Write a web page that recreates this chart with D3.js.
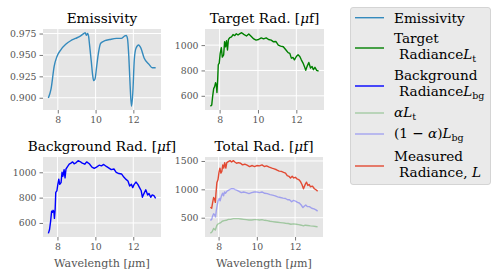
<!DOCTYPE html>
<html><head><meta charset="utf-8">
<script src="https://cdn.jsdelivr.net/npm/d3@7"></script>
<style>
html,body{margin:0;padding:0;background:#fff;}
svg{display:block;font-family:"DejaVu Serif",serif;}
</style></head>
<body><svg id="c" width="498" height="279"></svg>
<script>
// ---------- data ----------
const wlEmis = [7.50,7.64,7.81,7.95,8.16,8.42,8.68,8.94,9.19,9.37,9.45,9.51,9.58,9.63,9.68,9.77,9.85,9.90,9.97,10.06,10.15,10.27,10.49,10.75,11.10,11.36,11.53,11.62,11.69,11.76,11.83,11.90,11.97,12.05,12.14,12.28,12.40,12.57,12.83,13.00,13.18];
const emissivity = [0.8996,0.910,0.937,0.948,0.956,0.9624,0.9666,0.9693,0.972,0.975,0.976,0.973,0.975,0.972,0.962,0.943,0.9255,0.920,0.922,0.937,0.952,0.9636,0.9666,0.968,0.9693,0.9693,0.972,0.9727,0.969,0.948,0.914,0.890,0.905,0.9445,0.9579,0.9617,0.958,0.9465,0.939,0.935,0.935];

const wlTarget = [7.52,7.59,7.64,7.69,7.74,7.79,7.83,7.86,7.90,7.93,7.98,8.03,8.09,8.14,8.21,8.26,8.31,8.36,8.41,8.46,8.53,8.62,8.70,8.79,8.87,8.96,9.04,9.15,9.26,9.40,9.52,9.64,9.78,9.90,10.03,10.17,10.29,10.43,10.55,10.69,10.81,10.94,11.06,11.18,11.32,11.46,11.57,11.66,11.74,11.83,11.90,12.00,12.09,12.18,12.26,12.35,12.42,12.49,12.56,12.65,12.74,12.82,12.89,12.97,13.06,13.16];
const targetRad = [517,528,600,657,672,703,683,626,730,845,858,935,979,905,923,1026,987,1034,961,1044,1059,1065,1083,1075,1090,1080,1088,1098,1085,1072,1088,1070,1049,1039,1044,1057,1049,1057,1044,1039,1026,1028,1000,992,987,961,941,935,897,902,884,910,923,910,884,858,832,801,832,863,819,832,806,825,801,794];

const wlBackground = [7.52,7.58,7.64,7.69,7.74,7.77,7.81,7.84,7.88,7.91,7.97,8.02,8.07,8.12,8.19,8.24,8.29,8.35,8.40,8.45,8.54,8.62,8.71,8.80,8.88,8.99,9.09,9.19,9.31,9.44,9.54,9.68,9.82,9.94,10.06,10.20,10.32,10.44,10.58,10.72,10.84,10.98,11.10,11.24,11.38,11.50,11.62,11.72,11.81,11.90,11.97,12.05,12.14,12.24,12.33,12.42,12.48,12.55,12.66,12.76,12.83,12.92,13.00,13.09,13.18];
const backgroundRad = [518,546,615,692,684,700,692,636,713,841,854,905,946,905,918,1000,969,1021,956,1026,1046,1064,1072,1082,1067,1077,1092,1085,1072,1064,1082,1067,1041,1031,1041,1056,1051,1062,1046,1033,1021,1026,1000,990,987,962,944,931,892,905,879,905,923,905,879,854,803,828,862,821,833,803,821,815,795];

const wlAlphaLt = [7.57,7.66,7.74,7.83,7.91,8.00,8.09,8.19,8.29,8.40,8.51,8.63,8.77,8.91,9.04,9.18,9.32,9.45,9.59,9.73,9.86,10.00,10.14,10.27,10.41,10.55,10.69,10.82,10.96,11.09,11.23,11.37,11.50,11.64,11.78,11.92,12.06,12.19,12.33,12.44,12.53,12.67,12.80,12.94,13.08,13.18];
const alphaLt = [224,253,310,282,368,397,408,437,448,454,471,471,483,483,483,477,471,466,460,460,466,466,460,466,454,448,437,431,425,420,414,408,402,397,385,391,385,379,368,356,368,362,356,351,345,339];

const wlBgPart = [7.57,7.64,7.69,7.74,7.79,7.84,7.88,7.93,7.98,8.03,8.08,8.15,8.21,8.26,8.31,8.36,8.43,8.51,8.60,8.68,8.77,8.87,8.97,9.07,9.19,9.31,9.44,9.59,9.73,9.86,10.00,10.14,10.27,10.41,10.55,10.69,10.82,10.96,11.09,11.23,11.37,11.50,11.61,11.71,11.82,11.92,12.02,12.13,12.22,12.32,12.41,12.48,12.56,12.65,12.75,12.87,12.99,13.09,13.18];
const bgPart = [454,471,529,569,552,511,626,724,799,839,799,885,931,885,954,931,966,983,1000,1011,1011,994,983,966,943,954,943,925,943,954,954,943,954,931,925,908,897,885,868,856,845,839,816,816,782,805,793,770,759,724,678,701,724,695,695,667,655,638,615];

const wlMeasured = [7.57,7.64,7.69,7.74,7.79,7.83,7.86,7.91,7.97,8.02,8.07,8.12,8.17,8.22,8.27,8.32,8.38,8.43,8.51,8.60,8.68,8.77,8.85,8.94,9.04,9.15,9.25,9.37,9.49,9.62,9.76,9.88,10.00,10.14,10.27,10.39,10.51,10.65,10.79,10.91,11.03,11.17,11.28,11.40,11.50,11.59,11.68,11.76,11.85,11.93,12.02,12.10,12.19,12.27,12.36,12.44,12.53,12.60,12.67,12.74,12.80,12.91,13.01,13.11,13.18];
const measuredRad = [684,667,770,856,828,770,914,1115,1172,1299,1374,1287,1316,1431,1374,1471,1374,1471,1489,1506,1483,1506,1483,1460,1471,1460,1431,1443,1425,1402,1420,1402,1420,1414,1431,1402,1414,1391,1374,1362,1345,1322,1316,1299,1287,1241,1230,1201,1230,1201,1212,1184,1172,1144,1086,1011,1086,1126,1069,1086,1046,1057,1011,989,966];

const wlTicks = [8,10,12];
const emisTicks = [0.900,0.925,0.950,0.975];
const radTicks = [600,800,1000];
const totalTicks = [500,1000,1500];

// ---------- drawing ----------
const svg = d3.select("#c");
const TICKC = "#555555";

function pad(ext){const d=(ext[1]-ext[0])*0.05;return [ext[0]-d,ext[1]+d];}

function panel(cfg){
  const allX = cfg.series.flatMap(s=>s.x), allY = cfg.series.flatMap(s=>s.y);
  const x = d3.scaleLinear().domain(pad(d3.extent(allX))).range([cfg.x0,cfg.x1]);
  const y = d3.scaleLinear().domain(pad(d3.extent(allY))).range([cfg.y1,cfg.y0]);
  const g = svg.append("g");
  g.append("rect").attr("x",cfg.x0).attr("y",cfg.y0).attr("width",cfg.x1-cfg.x0).attr("height",cfg.y1-cfg.y0).attr("fill","#E5E5E5");
  // grid
  g.selectAll(".gx").data(wlTicks).join("line").attr("x1",d=>x(d)).attr("x2",d=>x(d)).attr("y1",cfg.y0).attr("y2",cfg.y1).attr("stroke","#fff").attr("stroke-width",1);
  g.selectAll(".gy").data(cfg.yTicks).join("line").attr("class","gy").attr("y1",d=>y(d)).attr("y2",d=>y(d)).attr("x1",cfg.x0).attr("x2",cfg.x1).attr("stroke","#fff").attr("stroke-width",1);
  // axes
  const ax = d3.axisBottom(x).tickValues(wlTicks).tickFormat(d3.format("d")).tickSize(3.5).tickPadding(3);
  const ay = d3.axisLeft(y).tickValues(cfg.yTicks).tickFormat(cfg.fmt).tickSize(3.5).tickPadding(3);
  const gx = g.append("g").attr("transform",`translate(0,${cfg.y1})`).call(ax);
  const gy = g.append("g").attr("transform",`translate(${cfg.x0},0)`).call(ay);
  [gx,gy].forEach(a=>{
    a.select(".domain").remove();
    a.selectAll(".tick line").attr("stroke",TICKC).attr("stroke-width",0.8);
    a.selectAll(".tick text").attr("fill",TICKC).style("font-family","DejaVu Serif").style("font-size","9.3px");
  });
  // lines
  cfg.series.forEach(s=>{
    const pts = d3.zip(s.x,s.y);
    const line = d3.line().x(d=>x(d[0])).y(d=>y(d[1])).curve(s.curve||d3.curveLinear);
    g.append("path").datum(pts).attr("d",line).attr("fill","none").attr("stroke",s.color).attr("stroke-opacity",s.opacity||1).attr("stroke-width",1.4).attr("stroke-linejoin","round");
  });
  // title
  const t = g.append("text").attr("x",(cfg.x0+cfg.x1)/2).attr("y",cfg.y0-6).attr("text-anchor","middle").style("font-size","13.6px").attr("fill","#000");
  cfg.title.forEach(p=>t.append("tspan").text(p[0]).style("font-style",p[1]?"italic":"normal"));
  if(cfg.xlabel){
    const xl = g.append("text").attr("x",(cfg.x0+cfg.x1)/2).attr("y",cfg.y1+30).attr("text-anchor","middle").style("font-size","11.1px").attr("fill","#555");
    xl.append("tspan").text("Wavelength [");
    xl.append("tspan").text("μ").style("font-style","italic");
    xl.append("tspan").text("m]");
  }
}

panel({x0:43,x1:161,y0:29,y1:110,yTicks:emisTicks,fmt:d3.format(".3f"),
  title:[["Emissivity",false]],
  series:[{x:wlEmis,y:emissivity,color:"#348ABD",curve:d3.curveMonotoneX}]});
panel({x0:205,x1:324,y0:29,y1:110,yTicks:radTicks,fmt:d3.format("d"),
  title:[["Target Rad. [",false],["μ",true],["f]",false]],
  series:[{x:wlTarget,y:targetRad,color:"#008000"}]});
panel({x0:43,x1:161,y0:157,y1:237,yTicks:radTicks,fmt:d3.format("d"),xlabel:true,
  title:[["Background Rad. [",false],["μ",true],["f]",false]],
  series:[{x:wlBackground,y:backgroundRad,color:"#0000FF"}]});
panel({x0:205,x1:323,y0:157,y1:237,yTicks:totalTicks,fmt:d3.format("d"),xlabel:true,
  title:[["Total Rad. [",false],["μ",true],["f]",false]],
  series:[{x:wlAlphaLt,y:alphaLt,color:"#008000",opacity:0.3},
          {x:wlBgPart,y:bgPart,color:"#0000FF",opacity:0.3},
          {x:wlMeasured,y:measuredRad,color:"#E24A33"}]});

// ---------- legend ----------
const legendItems = [
  {color:"#348ABD",op:1,ly:17.7,lines:[{y:22.7,x:394,parts:[["Emissivity"]]}]},
  {color:"#008000",op:1,ly:48,lines:[{y:43.3,x:394,parts:[["Target"]]},{y:59.3,x:399,parts:[["Radiance"],["L","i"],["t","s"]]}]},
  {color:"#0000FF",op:1,ly:86,lines:[{y:80,x:394,parts:[["Background"]]},{y:96,x:399,parts:[["Radiance"],["L","i"],["bg","s"]]}]},
  {color:"#008000",op:0.3,ly:113,lines:[{y:116.7,x:394,parts:[["α","i"],["L","i"],["t","s"]]}]},
  {color:"#0000FF",op:0.3,ly:134,lines:[{y:137.7,x:394,parts:[["(1"],[" − "],["α","i"],[")"],["L","i"],["bg","s"]]}]},
  {color:"#E24A33",op:1,ly:166,lines:[{y:161,x:394,parts:[["Measured"]]},{y:176.7,x:399,parts:[["Radiance, "],["L","i"]]}]}
];
const lg = svg.append("g");
lg.append("rect").attr("x",350.5).attr("y",7.5).attr("width",140).attr("height",177).attr("rx",2.5)
  .attr("fill","#E5E5E5").attr("fill-opacity",0.8).attr("stroke","#CCCCCC").attr("stroke-width",0.8);
legendItems.forEach(it=>{
  lg.append("line").attr("x1",355).attr("x2",384).attr("y1",it.ly).attr("y2",it.ly)
    .attr("stroke",it.color).attr("stroke-opacity",it.op).attr("stroke-width",1.4);
  it.lines.forEach(l=>{
    const t = lg.append("text").attr("x",l.x).attr("y",l.y).style("font-size","13.6px").attr("fill","#000");
    l.parts.forEach(p=>{
      const ts = t.append("tspan").text(p[0]);
      if(p[1]==="i") ts.style("font-style","italic");
      if(p[1]==="s"){ ts.style("font-size","9.5px").attr("dy",3); }
      else if(t.selectAll("tspan").size()>1){ /* reset baseline after subscript */ }
    });
  });
});
</script></body></html>
